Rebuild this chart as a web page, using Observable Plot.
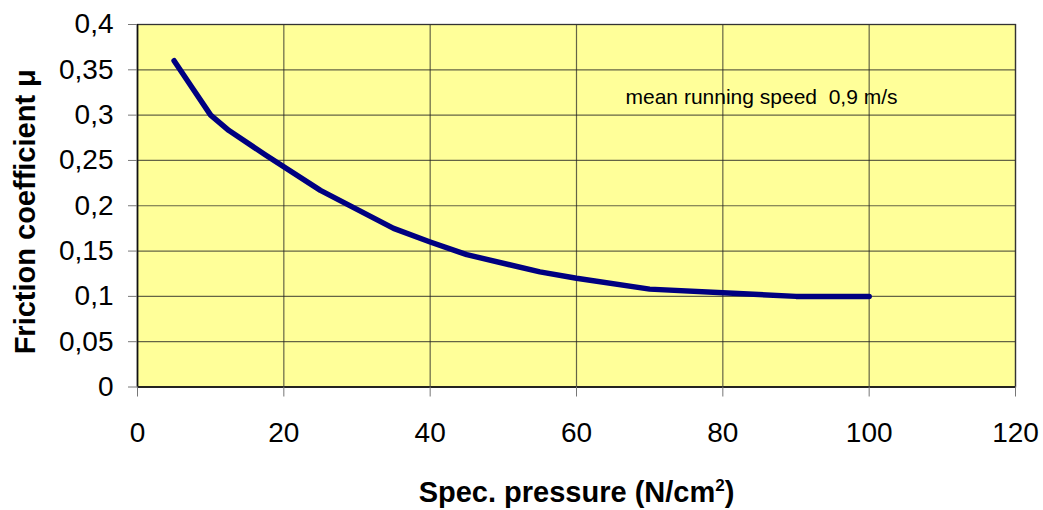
<!DOCTYPE html>
<html>
<head>
<meta charset="utf-8">
<script src="https://cdn.jsdelivr.net/npm/d3@7"></script>
<script src="https://cdn.jsdelivr.net/npm/@observablehq/plot@0.6"></script>
<style>
  html, body { margin: 0; padding: 0; background: #fff; }
  #chart svg { display: block; }
</style>
</head>
<body>
<div id="chart"></div>
<script>
// Data
const pressure = [5, 7.5, 10, 12.5, 17.5, 25, 35, 40, 45, 55, 60, 70, 80, 90, 100];
const friction = [0.36, 0.33, 0.30, 0.283, 0.256, 0.217, 0.175, 0.160, 0.146, 0.127, 0.120, 0.108, 0.104, 0.100, 0.100];
const xTicks = [0, 20, 40, 60, 80, 100, 120];
const yTicks = [0, 0.05, 0.1, 0.15, 0.2, 0.25, 0.3, 0.35, 0.4];
const xTitleMain = "Spec. pressure (N/cm";
const xTitleSup = "2";
const xTitleEnd = ")";
const yTitle = "Friction coefficient μ";
const note = "mean running speed  0,9 m/s";

const rows = pressure.map((p, i) => ({p, mu: friction[i]}));
const commaFmt = d => String(d).replace(".", ",");
const xTitle = xTitleMain + xTitleSup + xTitleEnd;

const chart = Plot.plot({
  width: 1043,
  height: 510,
  marginLeft: 137,
  marginRight: 28,
  marginTop: 24,
  marginBottom: 123.5,
  style: {fontFamily: "'Liberation Sans', Arial, sans-serif", background: "#fff", color: "#000"},
  x: {type: "linear", domain: [0, 120]},
  y: {type: "linear", domain: [0, 0.4]},
  marks: [
    Plot.frame({fill: "#FFFF99", stroke: null}),
    Plot.gridX(xTicks, {stroke: "#222", strokeOpacity: 0.7, strokeWidth: 1.2}),
    Plot.gridY(yTicks, {stroke: "#222", strokeOpacity: 0.7, strokeWidth: 1.2}),
    Plot.frame({stroke: "#333", strokeWidth: 1.3}),
    Plot.ruleX([0], {stroke: "#111", strokeWidth: 1.5}),
    Plot.ruleY([0], {stroke: "#111", strokeWidth: 1.5}),
    Plot.axisX(xTicks, {tickSize: 10, tickPadding: 25, fontSize: 28, stroke: "#777", fill: "#000", label: null, tickFormat: commaFmt}),
    Plot.axisY(yTicks, {tickSize: 9, tickPadding: 15, fontSize: 28, stroke: "#777", fill: "#000", label: null, tickFormat: commaFmt}),
    Plot.line(rows, {x: "p", y: "mu", stroke: "#000080", strokeWidth: 5.5, strokeLinecap: "round", strokeLinejoin: "round"}),
    Plot.text([note], {x: 66.7, y: 0.32, text: d => d, textAnchor: "start", lineAnchor: "middle", fontSize: 21, fill: "#000"}),
    Plot.text([xTitle], {frameAnchor: "bottom", dy: 106, text: d => d, textAnchor: "middle", lineAnchor: "middle", fontSize: 29, fontWeight: "bold", fill: "#000"}),
    Plot.text([yTitle], {frameAnchor: "left", dx: -112, dy: 6, rotate: -90, text: d => d, textAnchor: "middle", lineAnchor: "middle", fontSize: 29, fontWeight: "bold", fill: "#000"})
  ]
});
// turn the "2" of cm2 into a real superscript
d3.select(chart).selectAll("text").filter(function() { return this.textContent === xTitle; }).each(function() {
  const t = d3.select(this);
  t.text(null);
  t.append("tspan").text(xTitleMain);
  t.append("tspan").attr("font-size", 17).attr("dy", -11).text(xTitleSup);
  t.append("tspan").attr("dy", 11).text(xTitleEnd);
});
document.getElementById("chart").appendChild(chart);
</script>
</body>
</html>
